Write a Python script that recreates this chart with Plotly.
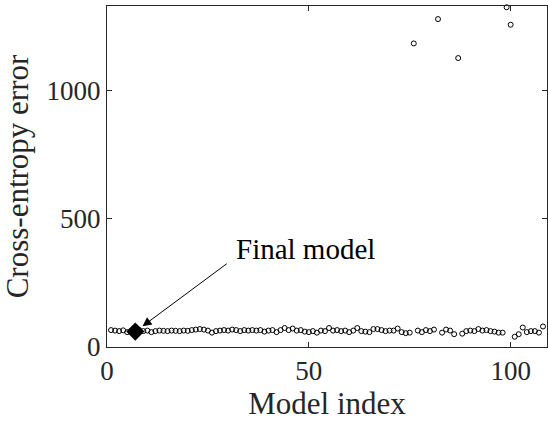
import plotly.graph_objects as go

# ---- data ----
model_index = list(range(1, 109))
cross_entropy = [
    66, 64, 62, 65, 58, 63, 60, 66, 62, 64, 58, 62, 64, 63, 62, 64, 63, 62, 64, 63,
    66, 68, 70, 68, 64, 56, 62, 64, 66, 64, 68, 66, 62, 66, 64, 66, 64, 66, 60, 64,
    66, 58, 66, 74, 66, 72, 64, 66, 60, 58, 62, 56, 64, 62, 74, 64, 66, 62, 64, 58,
    64, 74, 62, 60, 58, 70, 70, 66, 62, 64, 64, 72, 58, 54, 56, 1184, 64, 58, 66, 62,
    68, 1279, 56, 68, 64, 50, 1127, 52, 62, 64, 62, 70, 64, 66, 62, 60, 56, 56, 1325, 1257,
    40, 50, 76, 58, 62, 62, 56, 80,
]
final_index = [7]
final_error = [60]
x_ticks = [0, 50, 100]
y_ticks = [0, 500, 1000]

FONT = "Liberation Serif, Times New Roman, Times, serif"
AX = "#262626"
TXT = "#262626"

fig = go.Figure()
fig.add_trace(go.Scatter(
    x=model_index, y=cross_entropy, mode="markers",
    marker=dict(symbol="circle-open", size=5, color="black", line=dict(width=1, color="black")),
    cliponaxis=False, showlegend=False,
))
fig.add_trace(go.Scatter(
    x=final_index, y=final_error, mode="markers",
    marker=dict(symbol="diamond", size=14, color="black"),
    cliponaxis=False, showlegend=False,
))

# arrow (no text) pointing at the final model
fig.add_annotation(
    x=final_index[0], y=final_error[0], xref="x", yref="y",
    text="", showarrow=True, axref="pixel", ayref="pixel",
    ax=93, ay=-69, arrowhead=2, arrowsize=1.8, arrowwidth=1, arrowcolor="black",
    standoff=9,
)
# label
fig.add_annotation(
    x=31.5, y=381, xref="x", yref="y", text="Final model", showarrow=False,
    xanchor="left", yanchor="middle",
    font=dict(family=FONT, size=29, color="black"),
)

fig.update_layout(
    width=548, height=430,
    margin=dict(l=107, r=1, t=6, b=83, autoexpand=False),
    paper_bgcolor="white", plot_bgcolor="white",
    font=dict(family=FONT, color=TXT),
)
fig.update_xaxes(
    range=[0, 109], tickvals=x_ticks, ticks="inside", ticklen=5, tickwidth=1, tickcolor=AX,
    showline=True, linecolor=AX, linewidth=1, mirror="ticks", showgrid=False, zeroline=False,
    automargin=False,
    tickfont=dict(family=FONT, size=27, color=TXT),
    title=dict(text="Model index", font=dict(family=FONT, size=31, color=TXT), standoff=4),
)
fig.update_yaxes(
    range=[0, 1330], tickvals=y_ticks, ticks="inside", ticklen=5, tickwidth=1, tickcolor=AX,
    showline=True, linecolor=AX, linewidth=1, mirror="ticks", showgrid=False, zeroline=False,
    automargin=False,
    tickfont=dict(family=FONT, size=27, color=TXT),
    title=dict(text="Cross-entropy error", font=dict(family=FONT, size=31, color=TXT), standoff=8),
)

fig.write_html("out.html", config={"displayModeBar": False},
               post_script="document.body.style.margin='0px';")
